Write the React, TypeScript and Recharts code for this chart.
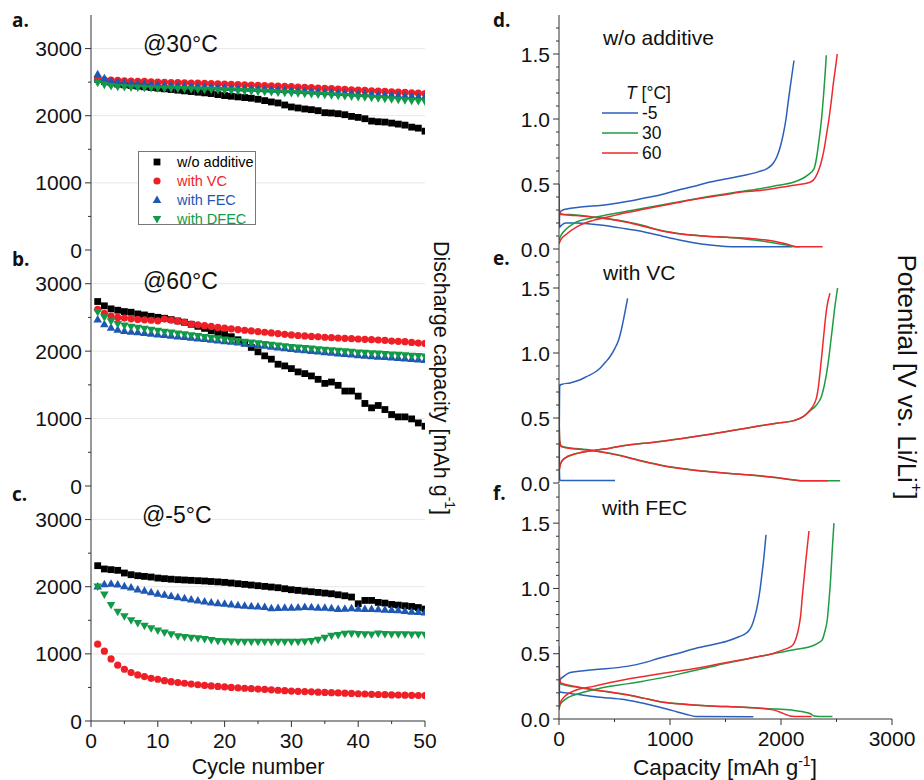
import React from 'react';
import {
  ScatterChart,
  Scatter,
  LineChart,
  Line,
  XAxis,
  YAxis,
  ReferenceLine,
  Legend,
} from 'recharts';

// ---- cycling data (discharge capacity, mAh/g) ----
const cycles = Array.from({ length: 50 }, (_, i) => i + 1);

const a_noAdd = [2540, 2510, 2490, 2470, 2460, 2450, 2440, 2430, 2420, 2410, 2400, 2390, 2380, 2370, 2360, 2350, 2340, 2330, 2315, 2300, 2290, 2280, 2270, 2260, 2245, 2225, 2205, 2190, 2160, 2130, 2115, 2100, 2090, 2075, 2045, 2040, 2030, 2015, 1990, 1975, 1955, 1920, 1910, 1905, 1890, 1875, 1860, 1830, 1815, 1770];
const a_vc = [2545, 2535, 2530, 2525, 2520, 2515, 2512, 2510, 2505, 2500, 2498, 2495, 2492, 2490, 2487, 2484, 2481, 2478, 2475, 2472, 2468, 2464, 2460, 2456, 2452, 2448, 2444, 2440, 2436, 2432, 2427, 2422, 2417, 2412, 2407, 2402, 2397, 2392, 2387, 2382, 2377, 2372, 2367, 2362, 2357, 2352, 2347, 2342, 2336, 2330];
const a_fec = [2620, 2560, 2520, 2505, 2495, 2485, 2478, 2472, 2466, 2460, 2456, 2452, 2448, 2444, 2440, 2436, 2432, 2428, 2424, 2420, 2416, 2412, 2408, 2404, 2400, 2396, 2392, 2388, 2384, 2380, 2375, 2370, 2365, 2360, 2355, 2350, 2345, 2340, 2335, 2330, 2325, 2320, 2315, 2310, 2305, 2300, 2295, 2290, 2285, 2280];
const a_dfec = [2490, 2460, 2440, 2430, 2425, 2420, 2417, 2414, 2411, 2408, 2405, 2402, 2399, 2396, 2393, 2390, 2387, 2384, 2381, 2378, 2374, 2370, 2366, 2362, 2358, 2354, 2350, 2346, 2342, 2338, 2333, 2327, 2321, 2315, 2309, 2303, 2297, 2291, 2285, 2279, 2272, 2265, 2258, 2251, 2244, 2237, 2230, 2223, 2216, 2209];

const b_noAdd = [2736, 2672, 2627, 2607, 2587, 2577, 2552, 2537, 2517, 2502, 2488, 2468, 2448, 2428, 2398, 2368, 2338, 2303, 2279, 2254, 2214, 2169, 2119, 2055, 1990, 1930, 1881, 1806, 1781, 1741, 1692, 1667, 1632, 1582, 1522, 1542, 1493, 1408, 1408, 1333, 1224, 1159, 1194, 1134, 1060, 1025, 1025, 995, 935, 886];
const b_vc = [2620, 2560, 2520, 2500, 2490, 2480, 2470, 2465, 2458, 2450, 2475, 2460, 2445, 2430, 2400, 2390, 2378, 2366, 2352, 2340, 2330, 2320, 2310, 2300, 2290, 2280, 2270, 2260, 2250, 2240, 2232, 2225, 2218, 2212, 2206, 2200, 2195, 2190, 2185, 2180, 2175, 2170, 2165, 2160, 2150, 2145, 2140, 2130, 2120, 2114];
const b_fec = [2470, 2400, 2350, 2320, 2300, 2290, 2280, 2270, 2260, 2250, 2240, 2230, 2220, 2210, 2200, 2190, 2180, 2170, 2160, 2150, 2140, 2128, 2116, 2104, 2092, 2080, 2068, 2056, 2044, 2032, 2022, 2013, 2004, 1995, 1986, 1977, 1968, 1959, 1950, 1941, 1934, 1927, 1920, 1913, 1906, 1899, 1892, 1885, 1878, 1870];
const b_dfec = [2580, 2500, 2440, 2400, 2380, 2360, 2345, 2330, 2315, 2300, 2287, 2274, 2261, 2248, 2235, 2222, 2209, 2196, 2183, 2170, 2159, 2148, 2137, 2126, 2115, 2104, 2093, 2082, 2071, 2060, 2052, 2044, 2036, 2028, 2020, 2012, 2004, 1996, 1988, 1980, 1974, 1968, 1962, 1956, 1950, 1944, 1938, 1932, 1926, 1920];

const c_noAdd = [2313, 2264, 2254, 2244, 2204, 2179, 2164, 2154, 2144, 2129, 2120, 2112, 2105, 2100, 2095, 2090, 2085, 2078, 2072, 2065, 2055, 2045, 2035, 2025, 2015, 2005, 1995, 1985, 1970, 1955, 1945, 1935, 1925, 1915, 1905, 1895, 1880, 1865, 1846, 1746, 1796, 1796, 1766, 1756, 1736, 1726, 1716, 1706, 1690, 1667];
const c_vc = [1144, 1040, 925, 831, 771, 721, 686, 661, 636, 622, 600, 585, 572, 562, 550, 540, 530, 522, 515, 507, 500, 494, 488, 482, 476, 470, 464, 458, 452, 446, 442, 438, 434, 430, 426, 422, 418, 414, 410, 406, 402, 398, 395, 392, 389, 386, 384, 382, 380, 378];
const c_fec = [2005, 2040, 2045, 2035, 2010, 1990, 1960, 1940, 1920, 1895, 1880, 1865, 1845, 1830, 1810, 1795, 1780, 1765, 1755, 1746, 1735, 1725, 1718, 1712, 1706, 1700, 1682, 1685, 1690, 1690, 1692, 1700, 1695, 1690, 1688, 1680, 1670, 1672, 1680, 1675, 1670, 1668, 1665, 1660, 1655, 1650, 1640, 1630, 1625, 1617];
const c_dfec = [2000, 1881, 1726, 1627, 1557, 1498, 1458, 1418, 1380, 1345, 1315, 1289, 1260, 1249, 1240, 1230, 1220, 1205, 1190, 1185, 1182, 1180, 1180, 1180, 1180, 1180, 1180, 1178, 1178, 1178, 1180, 1182, 1190, 1209, 1240, 1269, 1280, 1299, 1300, 1295, 1290, 1285, 1300, 1295, 1290, 1290, 1290, 1285, 1285, 1284];

// ---- voltage profiles: [capacity mAh/g, potential V] ----
const dBlueDis = [[0, 0.5], [3, 0.22], [8, 0.17], [25, 0.185], [60, 0.2], [160, 0.2], [300, 0.19], [459, 0.175], [600, 0.155], [760, 0.133], [900, 0.105], [1060, 0.074], [1200, 0.05], [1360, 0.03], [1500, 0.02], [1600, 0.017], [2100, 0.017]];
const dBlueChg = [[0, 0.16], [6, 0.26], [20, 0.294], [80, 0.31], [162, 0.32], [300, 0.33], [459, 0.345], [610, 0.365], [760, 0.39], [910, 0.415], [1060, 0.45], [1210, 0.48], [1360, 0.515], [1510, 0.54], [1660, 0.566], [1800, 0.595], [1871, 0.617], [1930, 0.66], [1961, 0.706], [1995, 0.79], [2021, 0.885], [2045, 1.0], [2066, 1.14], [2092, 1.3], [2117, 1.45]];
const dGreenDis = [[0, 0.34], [6, 0.28], [20, 0.27], [150, 0.262], [309, 0.247], [460, 0.23], [610, 0.21], [760, 0.18], [910, 0.145], [1060, 0.122], [1210, 0.107], [1360, 0.097], [1511, 0.09], [1660, 0.078], [1811, 0.064], [1950, 0.045], [2051, 0.03], [2120, 0.018], [2171, 0.017]];
const dGreenChg = [[0, 0.07], [15, 0.1], [60, 0.15], [140, 0.2], [300, 0.24], [450, 0.265], [610, 0.29], [760, 0.313], [910, 0.337], [1060, 0.36], [1210, 0.383], [1360, 0.405], [1511, 0.426], [1660, 0.445], [1811, 0.464], [1960, 0.488], [2117, 0.515], [2237, 0.566], [2297, 0.617], [2320, 0.7], [2342, 0.834], [2365, 1.0], [2385, 1.2], [2400, 1.38], [2408, 1.49]];
const dRedDis = [[0, 0.37], [6, 0.28], [20, 0.265], [150, 0.258], [309, 0.245], [460, 0.228], [610, 0.205], [760, 0.175], [910, 0.142], [1060, 0.12], [1210, 0.105], [1360, 0.097], [1511, 0.09], [1660, 0.084], [1811, 0.074], [1950, 0.058], [2051, 0.038], [2140, 0.018], [2200, 0.017], [2375, 0.017]];
const dRedChg = [[0, 0.04], [15, 0.07], [60, 0.11], [160, 0.17], [309, 0.22], [460, 0.25], [610, 0.28], [760, 0.305], [910, 0.33], [1060, 0.355], [1210, 0.38], [1360, 0.4], [1511, 0.42], [1660, 0.44], [1811, 0.45], [1960, 0.47], [2117, 0.49], [2267, 0.515], [2327, 0.58], [2360, 0.66], [2387, 0.76], [2410, 0.88], [2432, 1.0], [2452, 1.13], [2471, 1.27], [2490, 1.39], [2507, 1.5]];

const eBlueDis = [[0, 0.76], [2, 0.45], [4, 0.08], [8, 0.022], [20, 0.02], [505, 0.02]];
const eBlueChg = [[0, 0.02], [2, 0.3], [4, 0.6], [8, 0.75], [30, 0.76], [100, 0.77], [180, 0.79], [252, 0.82], [320, 0.85], [372, 0.885], [420, 0.93], [462, 0.975], [500, 1.03], [537, 1.1], [562, 1.18], [582, 1.26], [600, 1.34], [618, 1.42]];
const eGreenDis = [[0, 0.56], [6, 0.33], [20, 0.285], [60, 0.275], [150, 0.265], [309, 0.25], [460, 0.228], [610, 0.2], [760, 0.168], [910, 0.139], [1060, 0.117], [1210, 0.1], [1360, 0.087], [1511, 0.075], [1660, 0.065], [1811, 0.054], [1960, 0.04], [2117, 0.023], [2207, 0.018], [2533, 0.018]];
const eGreenChg = [[0, 0.1], [15, 0.15], [50, 0.19], [150, 0.225], [309, 0.25], [459, 0.268], [610, 0.29], [760, 0.305], [910, 0.319], [1060, 0.337], [1210, 0.355], [1360, 0.375], [1511, 0.396], [1660, 0.418], [1811, 0.44], [1960, 0.46], [2117, 0.48], [2200, 0.51], [2261, 0.555], [2320, 0.6], [2366, 0.67], [2390, 0.75], [2411, 0.845], [2432, 0.97], [2450, 1.1], [2468, 1.23], [2486, 1.36], [2510, 1.5]];
const eRedDis = [[0, 0.55], [6, 0.32], [20, 0.28], [60, 0.272], [150, 0.262], [309, 0.248], [460, 0.226], [610, 0.198], [760, 0.166], [910, 0.137], [1060, 0.115], [1210, 0.099], [1360, 0.086], [1511, 0.075], [1660, 0.066], [1811, 0.056], [1960, 0.042], [2100, 0.025], [2180, 0.018], [2420, 0.018]];
const eRedChg = [[0, 0.09], [15, 0.15], [50, 0.19], [150, 0.225], [309, 0.25], [459, 0.268], [610, 0.29], [760, 0.305], [910, 0.319], [1060, 0.337], [1210, 0.355], [1360, 0.375], [1511, 0.396], [1660, 0.418], [1811, 0.44], [1960, 0.46], [2117, 0.48], [2200, 0.51], [2261, 0.56], [2300, 0.61], [2321, 0.66], [2337, 0.74], [2351, 0.845], [2366, 0.97], [2381, 1.1], [2396, 1.23], [2411, 1.34], [2441, 1.46]];

const fBlueDis = [[0, 0.4], [4, 0.21], [20, 0.205], [70, 0.2], [309, 0.172], [460, 0.16], [610, 0.146], [760, 0.12], [910, 0.09], [1060, 0.056], [1150, 0.035], [1230, 0.02], [1751, 0.018]];
const fBlueChg = [[0, 0.1], [4, 0.25], [10, 0.3], [40, 0.325], [100, 0.356], [309, 0.377], [610, 0.403], [760, 0.43], [910, 0.467], [1060, 0.5], [1210, 0.536], [1360, 0.565], [1511, 0.595], [1620, 0.63], [1691, 0.66], [1735, 0.71], [1766, 0.79], [1790, 0.88], [1811, 0.99], [1827, 1.1], [1841, 1.2], [1853, 1.3], [1865, 1.41]];
const fGreenDis = [[0, 0.42], [6, 0.28], [20, 0.265], [150, 0.245], [309, 0.223], [460, 0.205], [610, 0.185], [760, 0.16], [910, 0.133], [1060, 0.118], [1210, 0.108], [1360, 0.1], [1511, 0.095], [1660, 0.09], [1811, 0.083], [1960, 0.076], [2117, 0.066], [2200, 0.055], [2267, 0.04], [2297, 0.023], [2340, 0.02], [2463, 0.02]];
const fGreenChg = [[0, 0.07], [10, 0.11], [50, 0.146], [189, 0.197], [369, 0.236], [610, 0.269], [760, 0.29], [910, 0.313], [1060, 0.34], [1210, 0.369], [1360, 0.398], [1511, 0.428], [1660, 0.454], [1811, 0.48], [1960, 0.505], [2117, 0.53], [2297, 0.565], [2340, 0.585], [2372, 0.608], [2395, 0.67], [2417, 0.762], [2432, 0.9], [2447, 1.07], [2462, 1.3], [2477, 1.5]];
const fRedDis = [[0, 0.56], [6, 0.3], [20, 0.275], [150, 0.25], [309, 0.226], [460, 0.207], [610, 0.187], [760, 0.16], [910, 0.133], [1060, 0.117], [1210, 0.107], [1360, 0.1], [1511, 0.095], [1660, 0.09], [1811, 0.083], [1931, 0.07], [2000, 0.05], [2050, 0.032], [2081, 0.023], [2120, 0.02], [2276, 0.02]];
const fRedChg = [[0, 0.08], [10, 0.12], [50, 0.172], [150, 0.22], [309, 0.25], [460, 0.28], [610, 0.305], [760, 0.326], [910, 0.346], [1060, 0.365], [1210, 0.385], [1360, 0.408], [1511, 0.433], [1660, 0.456], [1811, 0.48], [1920, 0.5], [2021, 0.53], [2080, 0.55], [2117, 0.58], [2140, 0.63], [2162, 0.71], [2178, 0.8], [2192, 0.94], [2207, 1.07], [2222, 1.2], [2237, 1.32], [2252, 1.44]];

// ---- ticks ----
const cycleTicks = [0, 5, 10, 15, 20, 25, 30, 35, 40, 45, 50];
const cycleMajor = [0, 10, 20, 30, 40, 50];
const capTicks = [0, 500, 1000, 1500, 2000, 2500, 3000];
const capMajor = [0, 1000, 2000, 3000];
const potTicks = [0, 0.1, 0.2, 0.3, 0.4, 0.5, 0.6, 0.7, 0.8, 0.9, 1.0, 1.1, 1.2, 1.3, 1.4, 1.5, 1.6, 1.7];
const potMajor = [0, 0.5, 1.0, 1.5];
const tempNames = ['-5', '30', '60'];

const AX = '#333';
const FONT = '"Liberation Sans", Arial, sans-serif';
const C_BLACK = '#000000';
const C_RED = '#ee1f26';
const C_BLUE = '#1e58b2';
const C_GREEN = '#139a48';
const L_BLUE = '#2b5fbb';
const L_GREEN = '#1e9c42';
const L_RED = '#ee2a2e';

const toCyc = (vals: number[]) => cycles.map((c, i) => ({ c, v: vals[i] }));
const toPts = (arr: number[][]) => arr.map(([x, y]) => ({ x, y }));

const makeTick = (side: string, majors: number[], labels: boolean, fmt: (v: number) => string) => (p: any) => {
  const v = Number(p.payload && p.payload.value);
  const major = majors.some((m) => Math.abs(m - v) < 1e-6);
  const len = major ? 6 : 3;
  const x = Number(p.x);
  const y = Number(p.y);
  const ln = side === 'left' || side === 'right'
    ? <line x1={x - len} x2={x} y1={y} y2={y} stroke={AX} strokeWidth={1} />
    : <line x1={x} x2={x} y1={y} y2={y + len} stroke={AX} strokeWidth={1} />;
  let txt = null;
  if (labels && major) {
    if (side === 'left') {
      txt = <text x={x - 9} y={y} dy="0.36em" textAnchor="end" fontSize={21} fontFamily={FONT} fill="#111">{fmt(v)}</text>;
    } else if (side === 'bottom') {
      txt = <text x={x} y={y + 27} textAnchor="middle" fontSize={21} fontFamily={FONT} fill="#111">{fmt(v)}</text>;
    }
  }
  return <g>{ln}{txt}</g>;
};

const markerShape = (kind: string, color: string) => (p: any) => {
  const { cx, cy } = p;
  if (cx == null || cy == null) return <g />;
  if (kind === 'square') return <rect x={cx - 3.4} y={cy - 3.4} width={6.8} height={6.8} fill={color} />;
  if (kind === 'circle') return <circle cx={cx} cy={cy} r={3.6} fill={color} />;
  if (kind === 'up') return <path d={`M${cx},${cy - 4.4}L${cx + 4.3},${cy + 3.1}L${cx - 4.3},${cy + 3.1}Z`} fill={color} />;
  return <path d={`M${cx},${cy + 4.4}L${cx + 4.3},${cy - 3.1}L${cx - 4.3},${cy - 3.1}Z`} fill={color} />;
};

const cycSeries = [
  { name: 'w/o additive', kind: 'square', color: C_BLACK },
  { name: 'with VC', kind: 'circle', color: C_RED },
  { name: 'with FEC', kind: 'up', color: C_BLUE },
  { name: 'with DFEC', kind: 'down', color: C_GREEN },
];

const CycLegend = (props: any) => {
  const payload = props.payload || [];
  return (
    <div style={{ border: '1px solid #777', background: '#fff', width: 118, height: 74, boxSizing: 'border-box', paddingTop: 1 }}>
      {cycSeries.map((s, i) => {
        const it = payload.find((q: any) => q.value === s.name);
        const color = (it && it.color) || s.color;
        return (
          <div key={i} style={{ height: 18.8, display: 'flex', alignItems: 'center', fontFamily: FONT, fontSize: 14.5, color }}>
            <svg width={38} height={18} style={{ flex: 'none' }}>{markerShape(s.kind, color)({ cx: 18, cy: 9 })}</svg>
            <span>{s.name}</span>
          </div>
        );
      })}
    </div>
  );
};

const TempLegend = (props: any) => {
  const items = (props.payload || []).filter((it: any) => tempNames.includes(String(it.value)));
  return (
    <div style={{ fontFamily: FONT, fontSize: 17.5, color: '#111', lineHeight: '20px' }}>
      <div style={{ paddingLeft: 24, height: 20 }}><i>T</i> [°C]</div>
      {items.map((it: any, i: number) => (
        <div key={i} style={{ height: 20, display: 'flex', alignItems: 'center' }}>
          <svg width={40} height={20} style={{ flex: 'none' }}><line x1={0} x2={36} y1={10} y2={10} stroke={it.color} strokeWidth={1.5} /></svg>
          <span>{it.value}</span>
        </div>
      ))}
    </div>
  );
};

function CyclePanel({ top, plotH, data, showX, legend }: any) {
  const chartTop = top - 15;
  const h = 15 + plotH + (showX ? 45 : 15);
  return (
    <div style={{ position: 'absolute', left: 0, top: chartTop }}>
      <ScatterChart width={460} height={h} margin={{ top: 15, right: 35, bottom: showX ? 0 : 15, left: 11 }}>
        <XAxis xAxisId="b" type="number" dataKey="c" domain={[0, 50]} allowDataOverflow ticks={cycleTicks} interval={0}
          height={showX ? 45 : 0} tickSize={0} tickMargin={0} tickLine={false} axisLine={{ stroke: AX }}
          tick={makeTick('bottom', cycleMajor, showX, String)} />
        <XAxis xAxisId="t" orientation="top" type="number" dataKey="c" domain={[0, 50]} allowDataOverflow ticks={cycleTicks} interval={0}
          height={0} tickSize={0} tickMargin={0} tickLine={false} axisLine={{ stroke: AX }}
          tick={makeTick('top', cycleMajor, false, String)} />
        <YAxis yAxisId="l" type="number" dataKey="v" domain={[0, 3500]} allowDataOverflow ticks={[0, 500, 1000, 1500, 2000, 2500, 3000]} interval={0}
          width={80} tickSize={0} tickMargin={0} tickLine={false} axisLine={{ stroke: AX }}
          tick={makeTick('left', [0, 1000, 2000, 3000], true, String)} />
        <YAxis yAxisId="r" orientation="right" type="number" dataKey="v" domain={[0, 3500]} allowDataOverflow ticks={[0, 500, 1000, 1500, 2000, 2500, 3000]} interval={0}
          width={0} tickSize={0} tickMargin={0} tickLine={false} axisLine={{ stroke: AX }}
          tick={makeTick('right', [0, 1000, 2000, 3000], false, String)} />
        {[1000, 2000, 3000].map((g) => (
          <ReferenceLine key={g} xAxisId="b" yAxisId="l" y={g} stroke="#e8e8e8" strokeWidth={1} />
        ))}
        {cycSeries.map((s, i) => (
          <Scatter key={s.name} name={s.name} xAxisId="b" yAxisId="l" data={toCyc(data[i])} fill={s.color}
            shape={markerShape(s.kind, s.color)} isAnimationActive={false} />
        ))}
        {legend && (
          <Legend layout="horizontal" verticalAlign="middle" align="center"
            wrapperStyle={{ left: 138, top: 151 - chartTop, width: 118, height: 74 }} content={CycLegend} />
        )}
      </ScatterChart>
    </div>
  );
}

function VoltPanel({ top, plotH, curves, showX, legend }: any) {
  const chartTop = top - 15;
  const h = 15 + plotH + (showX ? 45 : 15);
  return (
    <div style={{ position: 'absolute', left: 460, top: chartTop }}>
      <LineChart width={464} height={h} margin={{ top: 15, right: 32, bottom: showX ? 0 : 15, left: 19 }}>
        <XAxis xAxisId="b" type="number" dataKey="x" domain={[0, 3000]} allowDataOverflow ticks={capTicks} interval={0}
          height={showX ? 45 : 0} tickSize={0} tickMargin={0} tickLine={false} axisLine={{ stroke: AX }}
          tick={makeTick('bottom', capMajor, showX, String)} />
        <XAxis xAxisId="t" orientation="top" type="number" dataKey="x" domain={[0, 3000]} allowDataOverflow ticks={capTicks} interval={0}
          height={0} tickSize={0} tickMargin={0} tickLine={false} axisLine={{ stroke: AX }}
          tick={makeTick('top', capMajor, false, String)} />
        <YAxis yAxisId="l" type="number" dataKey="y" domain={[0, 1.8]} allowDataOverflow ticks={potTicks} interval={0}
          width={80} tickSize={0} tickMargin={0} tickLine={false} axisLine={{ stroke: AX }}
          tick={makeTick('left', potMajor, true, (v) => v.toFixed(1))} />
        <YAxis yAxisId="r" orientation="right" type="number" dataKey="y" domain={[0, 1.8]} allowDataOverflow ticks={potTicks} interval={0}
          width={0} tickSize={0} tickMargin={0} tickLine={false} axisLine={{ stroke: AX }}
          tick={makeTick('right', potMajor, false, (v) => v.toFixed(1))} />
        {curves.map((c: any, i: number) => (
          <Line key={i} xAxisId="b" yAxisId="l" data={toPts(c.d)} dataKey="y" name={c.name || `seg${i}`} type="monotone"
            stroke={c.color} strokeWidth={1.5} dot={false} activeDot={false} legendType={c.name ? 'line' : 'none'}
            isAnimationActive={false} />
        ))}
        {legend && (
          <Legend layout="horizontal" verticalAlign="middle" align="center"
            wrapperStyle={{ left: 142, top: 83 - chartTop, width: 100, height: 80 }} content={TempLegend} />
        )}
      </LineChart>
    </div>
  );
}

const curvesD = [
  { d: dBlueDis, color: L_BLUE }, { d: dBlueChg, color: L_BLUE, name: '-5' },
  { d: dGreenDis, color: L_GREEN }, { d: dGreenChg, color: L_GREEN, name: '30' },
  { d: dRedDis, color: L_RED }, { d: dRedChg, color: L_RED, name: '60' },
];
const curvesE = [
  { d: eBlueDis, color: L_BLUE }, { d: eBlueChg, color: L_BLUE },
  { d: eGreenDis, color: L_GREEN }, { d: eGreenChg, color: L_GREEN },
  { d: eRedDis, color: L_RED }, { d: eRedChg, color: L_RED },
];
const curvesF = [
  { d: fBlueDis, color: L_BLUE }, { d: fBlueChg, color: L_BLUE },
  { d: fGreenDis, color: L_GREEN }, { d: fGreenChg, color: L_GREEN },
  { d: fRedDis, color: L_RED }, { d: fRedChg, color: L_RED },
];

const txt = { fontFamily: FONT, fill: '#111' } as const;
const bold = { fontFamily: '"Open Sans", "Liberation Sans", Arial, sans-serif', fontWeight: 700, fontSize: 19, fill: '#111' } as const;

export default function App() {
  return (
    <div style={{ position: 'absolute', left: 0, top: 0, width: 924, height: 780, background: '#fff', overflow: 'hidden' }}>
      <CyclePanel top={15} plotH={235} data={[a_noAdd, a_vc, a_fec, a_dfec]} legend />
      <CyclePanel top={250} plotH={236} data={[b_noAdd, b_vc, b_fec, b_dfec]} />
      <CyclePanel top={486} plotH={235} data={[c_noAdd, c_vc, c_fec, c_dfec]} showX />
      <VoltPanel top={15} plotH={234} curves={curvesD} legend />
      <VoltPanel top={249} plotH={234} curves={curvesE} />
      <VoltPanel top={484} plotH={235} curves={curvesF} showX />
      <svg width={924} height={780} style={{ position: 'absolute', left: 0, top: 0, pointerEvents: 'none' }}>
        <text x={12} y={27} {...bold}>a.</text>
        <text x={12} y={266} {...bold}>b.</text>
        <text x={12} y={501} {...bold}>c.</text>
        <text x={493} y={27} {...bold}>d.</text>
        <text x={493} y={265} {...bold}>e.</text>
        <text x={493} y={500} {...bold}>f.</text>
        <text x={143} y={52} fontSize={23} {...txt}>@30°C</text>
        <text x={143} y={289} fontSize={23} {...txt}>@60°C</text>
        <text x={142} y={523} fontSize={23} {...txt}>@-5°C</text>
        <text x={603} y={45} fontSize={21} {...txt}>w/o additive</text>
        <text x={603} y={280} fontSize={21} {...txt}>with VC</text>
        <text x={602} y={515} fontSize={21} {...txt}>with FEC</text>
        <text x={258} y={774} fontSize={21.5} textAnchor="middle" {...txt}>Cycle number</text>
        <text x={725} y={775} fontSize={22.5} textAnchor="middle" {...txt}>
          Capacity [mAh g<tspan dy={-9} fontSize={14}>-1</tspan><tspan dy={9}>]</tspan>
        </text>
        <text x={441} y={378} fontSize={21.5} textAnchor="middle" dominantBaseline="central" transform="rotate(90 441 378)" {...txt}>
          Discharge capacity [mAh g<tspan dy={-9} fontSize={14}>-1</tspan><tspan dy={9}>]</tspan>
        </text>
        <text x={907} y={377} fontSize={26} textAnchor="middle" dominantBaseline="central" transform="rotate(90 907 377)" {...txt}>
          Potential [V vs. Li/Li<tspan dy={-10} fontSize={16}>+</tspan><tspan dy={10}>]</tspan>
        </text>
      </svg>
    </div>
  );
}
